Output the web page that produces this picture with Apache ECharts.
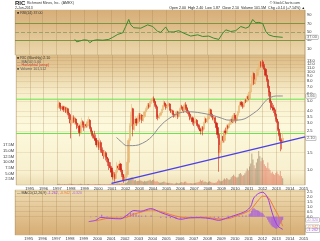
<!DOCTYPE html>
<html><head><meta charset="utf-8">
<script src="https://cdn.jsdelivr.net/npm/echarts@6/dist/echarts.min.js"></script>
<style>html,body{margin:0;padding:0;background:#fff;}#c{width:320px;height:241px;}</style>
</head><body><div id="c"></div>
<script>
// ---------- DATA ----------
const startYear = 1997; // first monthly candle: Jan 1997
const opens = [
4.3,4.5,4.8,4.4,4.2,4.4,4.1,4.3,3.9,4.2,3.8,3.6,
3.0,3.2,3.4,3.1,3.3,3.0,2.7,2.8,2.4,2.9,3.1,2.9,
2.7,2.9,2.8,3.1,3.2,2.7,2.5,2.3,2.2,2.1,2.0,1.8,
1.9,1.7,1.9,1.6,1.5,1.4,1.5,1.35,1.3,1.2,1.1,1.05,
0.95,0.85,0.9,0.82,0.95,1.1,1.05,1.15,1.0,0.9,0.85,0.8,
0.82,0.9,1.2,2.0,2.8,3.6,4.2,2.6,2.9,3.3,3.0,3.4,
3.6,3.3,3.6,3.2,3.5,3.9,4.1,4.3,4.6,4.4,4.9,5.1,
5.3,5.0,4.6,4.4,3.5,3.4,3.6,3.8,4.1,4.5,4.8,4.6,
4.3,4.5,4.7,4.1,3.9,4.0,3.7,3.5,3.6,3.9,3.5,3.8,
4.2,4.4,4.3,4.0,4.6,4.3,4.0,3.9,3.7,3.3,3.4,3.1,
3.0,3.1,3.2,2.9,2.8,2.6,2.5,2.7,2.6,3.0,3.3,3.1,
3.3,3.6,4.1,3.7,3.5,3.3,3.4,3.0,2.7,2.3,1.5,1.6,
1.9,2.2,2.0,2.5,2.4,2.8,2.7,2.9,3.0,3.3,3.1,3.6,
3.4,3.2,3.6,3.9,4.5,4.9,4.6,4.4,4.8,5.1,5.0,5.6,
5.3,6.2,7.3,8.8,9.6,7.6,8.3,9.2,10.5,11.8,12.5,11.4,
12.6,11.5,10.6,9.2,8.3,7.1,6.2,5.0,4.4,4.3,4.1,3.7,
3.3,3.1,2.6,2.3,2.0,1.96];
const highs = [
4.7,5.1,4.9,4.6,4.6,4.5,4.5,4.4,4.4,4.3,3.9,3.7,
3.5,3.6,3.6,3.5,3.4,3.1,3.0,2.9,3.1,3.4,3.2,3.0,
3.1,3.0,3.3,3.5,3.3,2.8,2.6,2.4,2.5,2.3,2.1,2.0,
2.0,2.1,2.0,1.7,1.6,1.6,1.55,1.45,1.35,1.3,1.2,1.1,
1.0,0.98,0.95,1.0,1.2,1.15,1.25,1.18,1.05,0.95,0.9,0.9,
0.95,1.3,2.1,3.0,3.9,4.7,4.3,3.1,3.5,3.4,3.6,3.8,
3.8,3.8,3.7,3.6,4.0,4.3,4.5,4.8,4.8,5.0,5.3,5.5,
5.6,5.3,4.9,4.5,3.7,3.7,3.9,4.2,4.6,5.1,5.0,4.7,
4.7,4.9,4.8,4.2,4.1,4.1,3.8,3.7,4.0,4.0,3.9,4.3,
4.6,4.6,4.4,4.8,4.9,4.4,4.2,4.0,3.8,3.6,3.5,3.3,
3.3,3.4,3.3,3.0,2.9,2.7,2.8,2.8,3.1,3.5,3.4,3.4,
3.8,4.3,4.2,3.8,3.6,3.6,3.5,3.1,2.8,2.4,1.8,2.0,
2.4,2.4,2.6,2.7,2.9,2.9,3.0,3.2,3.5,3.5,3.8,3.8,
3.6,3.7,4.0,4.7,5.1,5.0,4.7,4.9,5.3,5.3,5.9,5.8,
6.4,7.6,9.2,10.2,9.8,8.6,9.5,11.0,12.3,13.4,12.8,13.9,
13.2,12.0,10.9,9.4,8.5,7.3,6.4,5.2,4.8,4.6,4.2,3.8,
3.4,3.2,2.7,2.4,2.1,2.40];
const lows = [
4.1,4.3,4.2,4.0,4.0,3.9,3.9,3.8,3.7,3.6,3.3,2.1,
2.8,3.0,3.0,2.9,2.9,2.6,2.5,2.2,2.3,2.8,2.7,2.5,
2.6,2.7,2.7,3.0,2.6,2.4,2.2,2.1,2.0,1.9,1.7,1.7,
1.6,1.6,1.5,1.4,1.3,1.35,1.25,1.2,1.1,1.0,0.95,0.85,
0.8,0.78,0.76,0.8,0.92,1.0,1.0,0.95,0.85,0.78,0.74,0.76,
0.78,0.85,1.15,1.9,2.7,3.4,2.2,2.5,2.8,2.8,2.9,3.2,
3.1,3.2,3.0,3.1,3.4,3.8,4.0,4.2,4.2,4.3,4.7,5.0,
4.8,4.4,4.2,3.3,3.2,3.3,3.5,3.7,4.0,4.4,4.4,4.1,
4.2,4.4,4.0,3.8,3.7,3.6,3.4,3.4,3.5,3.3,3.4,3.7,
4.0,4.1,3.8,3.9,4.1,3.8,3.7,3.5,3.2,3.1,2.9,2.8,
2.9,3.0,2.8,2.7,2.5,2.3,2.4,2.25,2.5,2.9,3.0,3.0,
3.2,3.5,3.5,3.4,3.2,3.1,2.9,2.6,2.1,0.96,1.3,1.5,
1.8,1.9,1.9,2.3,2.3,2.6,2.6,2.8,2.9,3.0,3.0,3.2,
3.0,3.1,3.5,3.8,4.4,4.4,4.2,4.3,4.7,4.8,4.9,5.1,
5.2,6.0,7.1,8.5,7.3,7.4,8.1,9.0,10.2,11.4,11.0,11.2,
11.0,10.2,8.9,7.9,6.8,5.6,4.8,4.1,4.0,3.8,3.5,3.1,
3.0,2.5,2.2,1.55,1.62,1.87];
const closes = [
4.5,4.8,4.4,4.2,4.4,4.1,4.3,3.9,4.2,3.8,3.6,3.0,
3.2,3.4,3.1,3.3,3.0,2.7,2.8,2.4,2.9,3.1,2.9,2.7,
2.9,2.8,3.1,3.2,2.7,2.5,2.3,2.2,2.1,2.0,1.8,1.9,
1.7,1.9,1.6,1.5,1.4,1.5,1.35,1.3,1.2,1.1,1.05,0.95,
0.85,0.9,0.82,0.95,1.1,1.05,1.15,1.0,0.9,0.85,0.8,0.82,
0.9,1.2,2.0,2.8,3.6,4.2,2.6,2.9,3.3,3.0,3.4,3.6,
3.3,3.6,3.2,3.5,3.9,4.1,4.3,4.6,4.4,4.9,5.1,5.3,
5.0,4.6,4.4,3.5,3.4,3.6,3.8,4.1,4.5,4.8,4.6,4.3,
4.5,4.7,4.1,3.9,4.0,3.7,3.5,3.6,3.9,3.5,3.8,4.2,
4.4,4.3,4.0,4.6,4.3,4.0,3.9,3.7,3.3,3.4,3.1,3.0,
3.1,3.2,2.9,2.8,2.6,2.5,2.7,2.6,3.0,3.3,3.1,3.3,
3.6,4.1,3.7,3.5,3.3,3.4,3.0,2.7,2.3,1.5,1.6,1.9,
2.2,2.0,2.5,2.4,2.8,2.7,2.9,3.0,3.3,3.1,3.6,3.4,
3.2,3.6,3.9,4.5,4.9,4.6,4.4,4.8,5.1,5.0,5.6,5.3,
6.2,7.3,8.8,9.6,7.6,8.3,9.2,10.5,11.8,12.5,11.4,12.6,
11.5,10.6,9.2,8.3,7.1,6.2,5.0,4.4,4.3,4.1,3.7,3.3,
3.1,2.6,2.3,2.0,1.96,2.10];
const volumes = [ // millions
0.4,0.5,0.4,0.3,0.3,0.3,0.4,0.3,0.3,0.4,0.5,0.6,
0.5,0.4,0.4,0.3,0.3,0.3,0.3,0.4,0.5,0.4,0.3,0.3,
0.3,0.3,0.4,0.4,0.3,0.3,0.3,0.3,0.3,0.4,0.3,0.3,
0.4,0.4,0.3,0.3,0.3,0.3,0.3,0.3,0.3,0.4,0.4,0.4,
0.5,0.6,0.5,0.6,0.8,0.7,0.7,0.6,0.8,0.7,0.6,0.7,
0.9,1.4,2.4,2.8,3.2,3.4,2.9,2.0,2.2,1.6,1.7,1.9,
2.1,1.9,1.6,1.4,1.8,1.5,1.6,1.9,2.0,2.3,1.8,2.2,
2.4,1.6,1.4,1.8,1.3,1.0,1.0,1.1,1.3,1.5,1.2,1.0,
1.0,0.9,1.0,0.8,0.8,0.7,0.6,0.7,1.0,0.9,0.7,0.9,
1.3,1.1,1.0,1.4,1.5,1.0,0.8,0.8,0.9,0.8,0.7,0.8,
0.9,1.0,1.1,1.2,1.4,2.3,1.8,2.1,1.2,1.5,1.3,1.0,
1.4,1.6,1.3,1.0,1.0,0.9,1.0,1.1,1.6,2.4,1.9,1.5,
1.8,2.3,2.8,2.4,3.1,2.6,2.2,2.5,3.4,3.9,4.5,3.8,
3.5,3.2,3.6,4.8,5.2,4.6,3.9,4.4,5.1,6.0,7.2,6.4,
8.1,9.4,13.8,11.2,8.6,7.3,9.8,11.5,14.9,12.6,10.4,11.9,
10.8,9.1,8.3,7.6,9.9,7.2,6.5,5.1,5.8,4.9,4.4,5.3,
5.9,4.8,4.2,6.1,3.9,2.9];
const maDates  = [2001.33,2001.69,2002.05,2002.49,2002.93,2003.51,2003.95,2004.38,2004.82,2005.33,2005.84,2006.42,2007.0,2007.51,2008.24,2008.96,2009.47,2010.2,2010.64,2010.93,2011.36,2011.73,2012.02,2012.31,2012.6,2012.96,2013.47];
const maValues = [2.14,1.93,1.77,1.77,1.80,1.97,2.22,2.66,3.08,3.46,3.77,3.92,3.89,3.80,3.63,3.38,3.22,3.22,3.30,3.46,3.80,4.17,4.70,5.20,5.50,5.66,5.66];
const rsiDates  = [1998.35,1998.49,1998.71,1999.0,1999.29,1999.44,1999.65,1999.95,2000.38,2000.82,2001.11,2001.47,2001.84,2002.05,2002.27,2002.42,2002.64,2003.15,2003.65,2004.02,2004.38,2004.6,2004.96,2005.18,2005.55,2005.91,2006.27,2006.78,2007.29,2007.65,2008.09,2008.45,2008.82,2009.11,2009.33,2009.69,2010.05,2010.42,2010.78,2011.0,2011.29,2011.51,2011.73,2012.02,2012.24,2012.45,2012.82,2013.47];
const rsiValues = [32,26,28,31,30,24,29,31,30,32,37,44,48,63,80,67,60,59,67,63,51,49,62,50,50,53,47,40,43,39,40,35,32,47,55,51,53,63,59,62,80,72,73,70,51,43,39,37];
const rsiLevels = [70,50,30];
const macdDates  = [1999.36,1999.87,2000.24,2000.96,2001.69,2002.2,2002.64,2003.15,2003.87,2004.6,2005.33,2006.05,2006.78,2007.5,2008.24,2008.82,2009.47,2010.05,2010.78,2011.15,2011.36,2011.73,2012.02,2012.38,2012.6,2012.82,2013.11,2013.47];
const macdLine   = [-0.49,-0.36,-0.07,-0.17,-0.21,0.22,0.62,0.55,0.81,0.42,0.06,-0.26,-0.10,-0.10,-0.20,-0.36,-0.10,0.16,0.55,1.04,1.86,2.34,2.44,1.86,0.88,-0.10,-0.92,-1.262];
const macdSignal = [null,-0.42,-0.30,-0.12,-0.15,-0.02,0.25,0.45,0.68,0.52,0.20,-0.04,-0.12,-0.05,-0.12,-0.22,-0.20,0.05,0.42,0.70,1.05,1.70,2.05,1.95,1.55,0.95,0.22,-0.942];
const histDates = [1999.5,1999.9,2000.3,2000.7,2001.0,2001.4,2001.7,2002.0,2002.2,2002.4,2002.6,2002.8,2003.0,2003.2,2003.5,2003.9,2004.2,2004.6,2005.0,2005.3,2005.7,2006.05,2006.4,2006.8,2007.2,2007.5,2007.9,2008.2,2008.5,2008.8,2009.1,2009.5,2009.8,2010.05,2010.3,2010.55,2010.8,
2011.04,2011.13,2011.21,2011.29,2011.38,2011.46,2011.54,2011.63,2011.71,2011.79,2011.88,2011.96,
2012.04,2012.13,2012.21,2012.29,2012.38,2012.46,2012.54,2012.63,2012.71,2012.79,2012.88,2012.96,
2013.04,2013.13,2013.21,2013.29,2013.38,2013.46];
const histValues = [-0.05,0.06,0.2,0.05,-0.05,-0.05,-0.06,0.1,0.24,0.38,0.37,0.25,0.12,0.1,0.12,0.13,0.0,-0.1,-0.14,-0.14,-0.18,-0.22,-0.05,0.02,-0.03,-0.05,-0.04,-0.08,-0.1,-0.14,0.05,0.1,0.1,0.11,0.1,0.12,0.13,
0.25,0.34,0.6,0.8,0.85,0.75,0.68,0.64,0.6,0.5,0.42,0.39,
0.3,0.12,0.0,-0.1,-0.3,-0.5,-0.67,-0.85,-0.98,-1.05,-1.12,-1.2,
-1.18,-1.1,-0.9,-0.7,-0.5,-0.32];
const trendDates  = [2000.96, 2015.09];
const trendValues = [0.73, 2.17];
const supportLevels = [5.25, 2.35];
const priceTicks  = [1.0,1.5,2.5,3.0,3.5,4.0,5.0,6.0,7.0,8.0,9.0,10.0,11.0,12.0,13.0,14.0];
const volumeTicks = [2.5,5.0,7.5,10.0,12.5,15.0,17.5];
const rsiTicks    = [10,30,50,70,90];
const macdTicks   = [0,0.5,1.0,1.5,2.0,2.5];

// ---------- CHART ----------
const X_MIN = 1994, X_MAX = 2015.09;
const FONT = 'Liberation Sans';
const monthDate = i => startYear + (i + 0.5) / 12;
const candleRows = closes.map((c, i) => [monthDate(i), opens[i], c, lows[i], highs[i]]);
const volRows = volumes.map((v, i) => [monthDate(i), v]);
const zip = (a, b) => a.map((d, i) => [d, b[i]]);
const last = a => a[a.length - 1];

const grad = (stops) => ({type:'linear', x:0, y:0, x2:0, y2:1, colorStops: stops.map(([o,c]) => ({offset:o, color:c}))});
const gridCommon = {left:15, right:15, show:true, borderColor:'#c9b48e', borderWidth:0.5};

function xAx(gi, showLabels) {
  return {type:'value', gridIndex:gi, min:X_MIN, max:X_MAX, interval:1,
    axisLine:{show:false}, axisTick:{show:false},
    axisLabel:{show:showLabels, fontSize:4, color:'#333', fontFamily:FONT, margin:2,
      formatter: v => (v >= 1995 && v <= 2015 && Math.abs(v - Math.round(v)) < 1e-6) ? String(Math.round(v)) : ''},
    splitLine:{show:true, lineStyle:{color:'rgba(160,130,80,0.28)', width:1}}};
}
const rightLbl = {fontSize:4, color:'#333', fontFamily:FONT, margin:2};

function tagSeries(xi, yi, values, colors, offsets) {
  return {type:'scatter', xAxisIndex:xi, yAxisIndex:yi, symbolSize:0, silent:true, z:20,
    data: values.map((v, i) => ({value:[X_MAX, v], label:{color:colors[i], offset:[0, offsets ? offsets[i] : 0]}})),
    label:{show:true, position:'right', distance:1, fontSize:4, fontFamily:FONT,
      backgroundColor:'#fff', borderColor:'#888', borderWidth:0.5, padding:[0,1],
      formatter: p => p.value[1].toFixed(yi === 3 ? 3 : 2)}};
}
function levelSeries(xi, yi, level, color) {
  return {type:'line', xAxisIndex:xi, yAxisIndex:yi, data:[[X_MIN, level],[X_MAX, level]], symbol:'none', silent:true,
    lineStyle:{color:color, width:1}, z:3};
}

const upC = '#eab877', dnC = '#d3261a';
const option = {
  animation:false,
  backgroundColor:'#fff',
  textStyle:{fontFamily:FONT},
  grid:[
    Object.assign({top:10, height:45, backgroundColor:grad([[0,'#d6ad77'],[1,'#ecd8ad']])}, gridCommon),
    Object.assign({top:55, height:130, backgroundColor:grad([[0,'#dcb982'],[0.3,'#f8efcc'],[0.55,'#fdf9dc'],[0.9,'#f8f0cf'],[1,'#ecdcb2']])}, gridCommon),
    Object.assign({top:190, height:46, backgroundColor:grad([[0,'#efdcb2'],[1,'#d6ac74']])}, gridCommon)
  ],
  xAxis:[xAx(0,false), xAx(1,true), xAx(2,true)],
  yAxis:[
    {type:'value', gridIndex:0, position:'right', min:-5.6, max:102.8,
      axisLine:{show:false}, axisTick:{show:false, customValues:rsiTicks}, splitLine:{show:false},
      axisLabel:Object.assign({customValues:rsiTicks}, rightLbl)},
    {type:'log', gridIndex:1, position:'right', min:0.704, max:14.78, logBase:10,
      axisLine:{show:false}, axisTick:{show:false, customValues:priceTicks},
      splitLine:{show:true, lineStyle:{color:'rgba(160,130,80,0.15)'}},
      axisLabel:Object.assign({customValues:priceTicks, formatter: v => v.toFixed(1)}, rightLbl)},
    {type:'value', gridIndex:1, position:'left', min:0, max:56.9,
      axisLine:{show:false}, axisTick:{show:false}, splitLine:{show:false},
      axisLabel:Object.assign({customValues:volumeTicks, formatter: v => v.toFixed(1) + 'M'}, rightLbl)},
    {type:'value', gridIndex:2, position:'right', min:-1.826, max:2.666,
      axisLine:{show:false}, axisTick:{show:false, customValues:macdTicks},
      splitLine:{show:true, lineStyle:{color:'rgba(160,130,80,0.2)'}},
      axisLabel:Object.assign({customValues:macdTicks, formatter: v => v.toFixed(1)}, rightLbl)}
  ],
  series:[
    // RSI
    {type:'line', xAxisIndex:0, yAxisIndex:0, data:zip(rsiDates, rsiValues), symbol:'none',
      lineStyle:{color:'#3d8a2c', width:1}, z:5,
      markLine:{symbol:'none', silent:true, label:{show:false},
        data: rsiLevels.map(l => ({yAxis:l, lineStyle:{color: l === 50 ? '#9aa46a' : '#7f9444', width:1, type: l === 50 ? 'dashed' : 'solid'}}))}},
    tagSeries(0, 0, [last(rsiValues)], ['#333']),
    // volume
    {type:'bar', xAxisIndex:1, yAxisIndex:2, data:volRows, barWidth:1.1, z:1,
      itemStyle:{color: p => closes[p.dataIndex] >= opens[p.dataIndex] ? 'rgba(140,110,80,0.5)' : 'rgba(225,100,80,0.5)'}},
    // support levels
    levelSeries(1, 1, supportLevels[0], '#66e64a'),
    levelSeries(1, 1, supportLevels[1], '#66e64a'),
    // candles
    {type:'candlestick', xAxisIndex:1, yAxisIndex:1, data:candleRows, encode:{x:0, y:[1,2,3,4]}, barWidth:1.7, z:4,
      itemStyle:{color:upC, color0:dnC, borderColor:upC, borderColor0:dnC, borderWidth:0.6}},
    // MA
    {type:'line', xAxisIndex:1, yAxisIndex:1, data:zip(maDates, maValues), symbol:'none', smooth:0.3,
      lineStyle:{color:'#8d8d92', width:1}, z:5},
    // trendline
    {type:'line', xAxisIndex:1, yAxisIndex:1, data:zip(trendDates, trendValues), symbol:'none',
      lineStyle:{color:'#4a40e8', width:1.3}, z:6},
    tagSeries(1, 1, [last(maValues), last(closes)], ['#333', '#333']),
    // MACD
    {type:'bar', xAxisIndex:2, yAxisIndex:3, data:zip(histDates, histValues), barWidth:1.3,
      itemStyle:{color:'rgba(165,90,225,0.75)'}, z:2},
    {type:'line', xAxisIndex:2, yAxisIndex:3, data:zip(macdDates, macdSignal), symbol:'none', smooth:0.3,
      lineStyle:{color:'#f07a3c', width:1}, z:5},
    {type:'line', xAxisIndex:2, yAxisIndex:3, data:zip(macdDates, macdLine), symbol:'none', smooth:0.3,
      lineStyle:{color:'#a03ce6', width:1}, z:6},
    tagSeries(2, 3, [last(histValues), last(macdSignal), last(macdLine)], ['#b070e0', '#f07a3c', '#a03ce6'], [0, 1, 1])
  ],
  graphic:[
    {type:'text', left:15, top:0, style:{text:'RIC', font:'bold 6px ' + FONT, fill:'#222'}},
    {type:'text', left:27, top:1, style:{text:'Richmont Mines, Inc.  (AMEX)', font:'3.5px ' + FONT, fill:'#333'}},
    {type:'text', left:15, top:6, style:{text:'2-Jun-2013', font:'3.5px ' + FONT, fill:'#333'}},
    {type:'text', right:20, top:1, style:{text:'© StockCharts.com', font:'3.5px ' + FONT, fill:'#333'}},
    {type:'text', right:15, top:6, style:{text:'Open 2.00  High 2.40  Low 1.87  Close 2.10  Volume 101.5M  Chg +0.14 (+7.14%) \u25B2', font:'3.6px ' + FONT, fill:'#222'}},
    {type:'text', left:17, top:10.5, style:{text:'\u25A0 RSI(14) ' + last(rsiValues).toFixed(2), font:'3.6px ' + FONT, fill:'#333'}},
    {type:'text', left:17, top:56, style:{text:'\u25A0 RIC (Monthly) ' + last(closes).toFixed(2), font:'3.6px ' + FONT, fill:'#333'}},
    {type:'text', left:17, top:59.5, style:{text:'\u2014 MA(50) ' + last(maValues).toFixed(2), font:'3.6px ' + FONT, fill:'#555'}},
    {type:'text', left:17, top:63, style:{text:'\u2014 Horizontal (unsp)', font:'3.6px ' + FONT, fill:'#d03020'}},
    {type:'text', left:17, top:66.5, style:{text:'\u25A0 Volume 101,512', font:'3.6px ' + FONT, fill:'#555'}},
    {type:'text', left:17, top:190.5, style:{rich:{a:{fill:'#333'}, m:{fill:'#a03ce6'}, s:{fill:'#f07a3c'}, h:{fill:'#b070e0'}},
      text:'{a|\u2014 MACD(12,26,9)} {m|' + last(macdLine).toFixed(3) + ',} {s|' + last(macdSignal).toFixed(3) + ',} {h|' + last(histValues).toFixed(3) + '}', font:'3.6px ' + FONT}}
  ]
};
const chart = echarts.init(document.getElementById('c'), null, {renderer:'canvas', width:320, height:241});
chart.setOption(option);
</script>
</body></html>
